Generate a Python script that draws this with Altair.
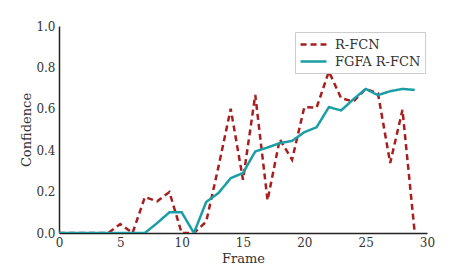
import altair as alt
import pandas as pd

frames = list(range(30))
rfcn = [0, 0, 0, 0, 0, 0.043, 0, 0.174, 0.153, 0.198, 0, 0, 0.055, 0.32, 0.60,
        0.257, 0.667, 0.158, 0.453, 0.354, 0.608, 0.606, 0.78, 0.651, 0.635,
        0.696, 0.675, 0.338, 0.595, 0]
fgfa = [0, 0, 0, 0, 0, 0, 0, 0, 0.048, 0.10, 0.10, 0, 0.15, 0.193, 0.265,
        0.29, 0.394, 0.413, 0.434, 0.445, 0.487, 0.511, 0.608, 0.592, 0.646,
        0.696, 0.666, 0.685, 0.696, 0.691]
series = ["R-FCN", "FGFA R-FCN"]

df = pd.DataFrame({
    "Frame": frames * 2,
    "Confidence": rfcn + fgfa,
    "Series": [series[0]] * 30 + [series[1]] * 30,
})

font = "DejaVu Serif"
leg = dict(title=None, orient="none", legendX=236, legendY=6,
           symbolType="M-1.85,0L1.85,0", symbolSize=196, symbolStrokeWidth=2.5,
           symbolFillColor="transparent", symbolOffset=6, labelOffset=13,
           fillColor="white", strokeColor="#cccccc", padding=4,
           labelFont=font, labelFontSize=13, labelColor="#333333", rowPadding=1)

chart = alt.Chart(df).mark_line(strokeWidth=2.5, clip=True).encode(
    x=alt.X("Frame:Q", scale=alt.Scale(domain=[0, 30], nice=False),
            axis=alt.Axis(values=[0, 5, 10, 15, 20, 25, 30], title="Frame")),
    y=alt.Y("Confidence:Q", scale=alt.Scale(domain=[0, 1], nice=False),
            axis=alt.Axis(values=[0, 0.2, 0.4, 0.6, 0.8, 1.0], format=".1f", title="Confidence")),
    color=alt.Color("Series:N", scale=alt.Scale(domain=series, range=["#a81e1e", "#1a9ea6"]),
                    legend=alt.Legend(**leg)),
    strokeDash=alt.StrokeDash("Series:N", scale=alt.Scale(domain=series, range=[[6, 4], [1, 0]]),
                              legend=alt.Legend(**leg)),
    order=alt.Order("Frame:Q"),
).properties(
    width=368, height=207,
    padding={"left": 12, "top": 12, "right": 5, "bottom": 2},
).configure_view(stroke=None).configure_axis(
    grid=False, ticks=False, domainColor="#222222", domainWidth=1.5, labelFlush=False,
    labelFont=font, labelFontSize=12, labelColor="#333333", labelPadding=4,
    titleFont=font, titleFontSize=13, titleFontWeight="normal", titleColor="#333333",
).configure_axisY(titlePadding=2).configure_axisX(titlePadding=4)

chart.save("out.html", embed_options={"renderer": "svg", "actions": False})
